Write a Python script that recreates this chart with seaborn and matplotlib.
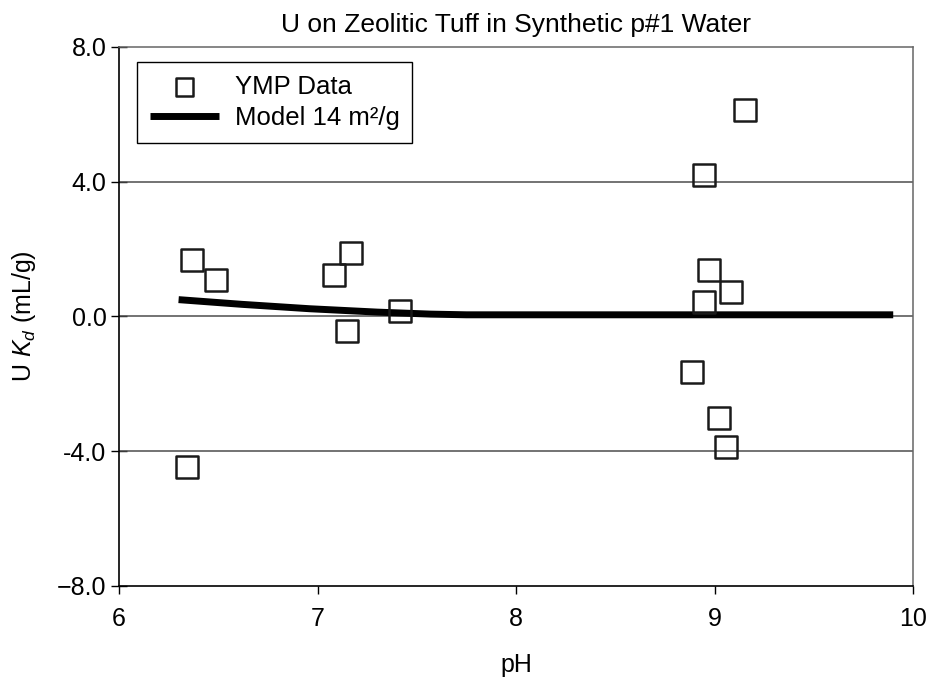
import matplotlib
matplotlib.use("Agg")
import matplotlib.pyplot as plt
import seaborn as sns
import pandas as pd

# Data
data_ph = [6.366, 6.488, 6.341, 7.085, 7.170, 7.146, 7.417,
           9.155, 8.948, 8.973, 9.082, 8.948, 8.888, 9.023, 9.059]
data_kd = [1.67, 1.09, -4.46, 1.23, 1.89, -0.42, 0.16,
           6.13, 4.19, 1.38, 0.74, 0.44, -1.65, -3.02, -3.88]

model_ph = [6.3, 6.62, 6.96, 7.3, 7.57, 7.75, 8.0, 8.5, 9.0, 9.5, 9.9]
model_kd = [0.50, 0.36, 0.23, 0.13, 0.07, 0.05, 0.05, 0.05, 0.05, 0.05, 0.05]

y_ticks = [8.0, 4.0, 0.0, -4.0, -8.0]
y_ticklabels = ["8.0", "4.0", "0.0", "-4.0", "\u22128.0"]
x_ticks = [6, 7, 8, 9, 10]

sns.set_theme(style="white")
plt.rcParams["font.family"] = ["Liberation Sans", "DejaVu Sans"]
plt.rcParams["mathtext.fontset"] = "custom"
plt.rcParams["mathtext.rm"] = "Liberation Sans"
plt.rcParams["mathtext.it"] = "Liberation Sans:italic"
plt.rcParams["text.color"] = "black"
plt.rcParams["axes.labelcolor"] = "black"

fig = plt.figure(figsize=(9.3, 6.79), dpi=100)
ax = fig.add_axes([0.128, 0.137, 0.8538, 0.7938])

df_data = pd.DataFrame({"pH": data_ph, "Kd": data_kd})
df_model = pd.DataFrame({"pH": model_ph, "Kd": model_kd})

for yv in [4.0, 0.0, -4.0]:
    ax.axhline(yv, color="#4d4d4d", lw=1.1, zorder=1)

sns.lineplot(data=df_model, x="pH", y="Kd", ax=ax, color="black", lw=5,
             label="Model 14 m\u00b2/g", zorder=3, solid_capstyle="butt")
sns.scatterplot(data=df_data, x="pH", y="Kd", ax=ax, marker="s", s=250,
                facecolor="none", edgecolor="#1a1a1a", linewidth=1.8,
                label="YMP Data", zorder=4)

ax.set_xlim(6, 10)
ax.set_ylim(-8, 8)
ax.set_xticks(x_ticks)
ax.set_xticklabels([str(v) for v in x_ticks])
ax.set_yticks(y_ticks)
ax.set_yticklabels(y_ticklabels)
ax.tick_params(axis="y", direction="inout", length=12, width=1, labelsize=18,
               left=True, pad=3, colors="black")
ax.tick_params(axis="x", direction="out", length=6, width=1, labelsize=18,
               bottom=True, pad=9, colors="black")

for side in ["left", "bottom"]:
    ax.spines[side].set_color("black")
    ax.spines[side].set_linewidth(1.2)
for side in ["top", "right"]:
    ax.spines[side].set_color("#666666")
    ax.spines[side].set_linewidth(1.1)

ax.set_xlabel("pH", fontsize=18, labelpad=16, color="black")
ax.set_ylabel("U $K_d$ (mL/g)", fontsize=18, labelpad=14, color="black")
ax.set_title("U on Zeolitic Tuff in Synthetic p#1 Water", fontsize=19,
             pad=11, color="black")

handles, labels = ax.get_legend_handles_labels()
order = [labels.index("YMP Data"), labels.index("Model 14 m\u00b2/g")]
leg = ax.legend([handles[i] for i in order], [labels[i] for i in order],
                loc="upper left", bbox_to_anchor=(0.0227, 0.972), fontsize=18.5,
                frameon=True, fancybox=False, edgecolor="black",
                framealpha=1, borderpad=0.5, handlelength=2.7,
                handletextpad=0.6, labelspacing=0.27, borderaxespad=0,
                markerscale=0.8)
leg.get_frame().set_linewidth(1.0)
for t in leg.get_texts():
    t.set_color("black")

fig.savefig("out.png", dpi=100)
